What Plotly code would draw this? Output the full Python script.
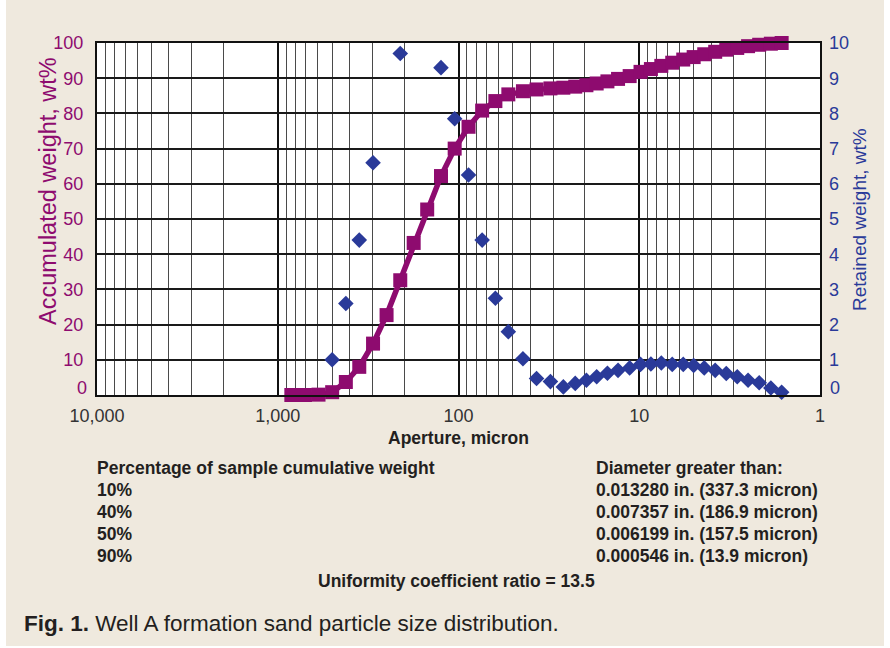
import plotly.graph_objects as go

# ---------------- data ----------------
aperture_um = [841, 707, 595, 500, 420, 354, 297, 250, 210, 177, 149, 125, 105, 88, 74, 62.5, 53,
               44, 37, 31, 26.3, 22.6, 19.6, 17.2, 15.0, 13.1, 11.3,
               9.84, 8.62, 7.55, 6.57, 5.71, 5.00, 4.37, 3.80, 3.30, 2.87,
               2.50, 2.17, 1.87, 1.63]
accumulated_wt = [0, 0, 0.1, 0.8, 3.7, 8.0, 14.6, 22.7, 32.6, 43.2, 52.7, 62.2, 70.0, 76.2, 80.8, 83.5, 85.4,
                  86.3, 86.8, 87.1, 87.3, 87.6, 88.0, 88.5, 89.1, 89.8, 90.6,
                  91.8, 92.6, 93.5, 94.4, 95.3, 96.0, 96.8, 97.5, 98.1, 98.6,
                  99.1, 99.5, 99.8, 100.0]
retained_wt = [None, None, None, 1.0, 2.6, 4.4, 6.6, None, 9.7, None, None, 9.3, 7.85, 6.25, 4.4, 2.75, 1.8,
               1.03, 0.47, 0.38, 0.23, 0.33, 0.42, 0.52, 0.62, 0.70, 0.77,
               0.87, 0.88, 0.91, 0.87, 0.87, 0.84, 0.77, 0.70, 0.61, 0.52,
               0.42, 0.35, 0.20, 0.08]

x_tick_vals = [10000, 1000, 100, 10, 1]
x_tick_text = ["10,000", "1,000", "100", "10", "1"]
y_left_ticks = [10, 20, 30, 40, 50, 60, 70, 80, 90, 100]
y_right_ticks = [1, 2, 3, 4, 5, 6, 7, 8, 9, 10]

pct_labels = ["10%", "40%", "50%", "90%"]
diam_labels = ["0.013280 in. (337.3 micron)", "0.007357 in. (186.9 micron)",
               "0.006199 in. (157.5 micron)", "0.000546 in. (13.9 micron)"]

# ---------------- style ----------------
MAG = "#8E0B6F"
BLUE = "#2A3A99"
BEIGE = "#EFE9DE"
TXT = "#231F20"
FONT = "Liberation Sans, Arial, sans-serif"

W, H = 890, 648
L, R, T, B = 97, 70, 43, 253
PW, PH = W - L - R, H - T - B


def px(xp):
    return (xp - L) / PW


def py(yp):
    return (H - B - yp) / PH


minor_vals = [m * 10 ** e for e in range(0, 4) for m in range(2, 10)]

fig = go.Figure()

fig.add_trace(go.Scatter(
    x=aperture_um, y=retained_wt, yaxis="y2", mode="markers",
    marker=dict(symbol="diamond", size=12, color=BLUE, line=dict(width=0)),
    cliponaxis=False, showlegend=False))

fig.add_trace(go.Scatter(
    x=aperture_um, y=accumulated_wt, mode="lines+markers",
    line=dict(color=MAG, width=5.5),
    marker=dict(symbol="square", size=14, color=MAG, line=dict(width=0)),
    cliponaxis=False, showlegend=False))

fig.update_layout(
    width=W, height=H,
    margin=dict(l=L, r=R, t=T, b=B, pad=0),
    paper_bgcolor=BEIGE, plot_bgcolor="white",
    font=dict(family=FONT, color=TXT),
    showlegend=False,
    xaxis=dict(
        type="log", range=[4, 0],
        tickvals=x_tick_vals, ticktext=x_tick_text,
        tickfont=dict(size=18, color="#333333"),
        ticks="", ticklabelstandoff=3,
        showgrid=True, gridcolor="#111111", gridwidth=1.7,
        minor=dict(tickvals=minor_vals, showgrid=True, gridcolor="#4a4a4a", gridwidth=1.2, ticks=""),
        showline=True, linecolor="#111111", linewidth=2, mirror=True,
        zeroline=False,
    ),
    yaxis=dict(
        range=[0, 100], tickvals=y_left_ticks,
        tickfont=dict(size=18, color=MAG),
        ticks="", ticklabelstandoff=8,
        showgrid=True, gridcolor="#1a1a1a", gridwidth=1.5,
        showline=True, linecolor="#111111", linewidth=2, mirror=True,
        zeroline=False,
    ),
    yaxis2=dict(
        range=[0, 10], tickvals=y_right_ticks, overlaying="y", side="right",
        tickfont=dict(size=18, color=BLUE),
        ticks="", ticklabelstandoff=8,
        showgrid=False, zeroline=False, showline=False,
    ),
)

ann = []
# shifted zero labels
ann.append(dict(xref="paper", yref="paper", x=0, y=0, xanchor="right", yanchor="middle",
                xshift=-8, yshift=7, text="0", showarrow=False, font=dict(size=18, color=MAG)))
ann.append(dict(xref="paper", yref="paper", x=1, y=0, xanchor="left", yanchor="middle",
                xshift=8, yshift=7, text="0", showarrow=False, font=dict(size=18, color=BLUE)))
# axis titles
ann.append(dict(xref="paper", yref="paper", x=px(48), y=py(191), textangle=-90,
                xanchor="center", yanchor="middle", text="Accumulated weight, wt%",
                showarrow=False, font=dict(size=23.5, color=MAG)))
ann.append(dict(xref="paper", yref="paper", x=px(859), y=py(220), textangle=-90,
                xanchor="center", yanchor="middle", text="Retained weight, wt%",
                showarrow=False, font=dict(size=19, color=BLUE)))
ann.append(dict(xref="paper", yref="paper", x=0.5, y=py(438), xanchor="center", yanchor="middle",
                text="<b>Aperture, micron</b>", showarrow=False, font=dict(size=17.5, color=TXT)))
# table text
ann.append(dict(xref="paper", yref="paper", x=px(95), y=py(468), xanchor="left", yanchor="middle",
                text="<b>Percentage of sample cumulative weight</b>", showarrow=False,
                font=dict(size=17.5, color=TXT)))
ann.append(dict(xref="paper", yref="paper", x=px(594), y=py(468), xanchor="left", yanchor="middle",
                text="<b>Diameter greater than:</b>", showarrow=False, font=dict(size=17.5, color=TXT)))
row_y = [490, 512, 534, 556]
for lab, dl, yy in zip(pct_labels, diam_labels, row_y):
    ann.append(dict(xref="paper", yref="paper", x=px(95), y=py(yy), xanchor="left", yanchor="middle",
                    text="<b>%s</b>" % lab, showarrow=False, font=dict(size=17.5, color=TXT)))
    ann.append(dict(xref="paper", yref="paper", x=px(594), y=py(yy), xanchor="left", yanchor="middle",
                    text="<b>%s</b>" % dl, showarrow=False, font=dict(size=17.5, color=TXT)))
ann.append(dict(xref="paper", yref="paper", x=px(456), y=py(581), xanchor="center", yanchor="middle",
                text="<b>Uniformity coefficient ratio = 13.5</b>", showarrow=False,
                font=dict(size=17.5, color=TXT)))
# caption
ann.append(dict(xref="paper", yref="paper", x=px(22), y=py(623), xanchor="left", yanchor="middle",
                text="<b>Fig. 1.</b> Well A formation sand particle size distribution.", showarrow=False,
                font=dict(size=22.5, color=TXT)))
fig.update_layout(annotations=ann)

# white page strips at the edges
fig.add_shape(type="rect", xref="paper", yref="paper", x0=px(0), x1=px(6), y0=py(H), y1=py(0),
              fillcolor="white", line=dict(width=0), layer="below")
fig.add_shape(type="rect", xref="paper", yref="paper", x0=px(884), x1=px(W), y0=py(H), y1=py(0),
              fillcolor="white", line=dict(width=0), layer="below")
fig.add_shape(type="rect", xref="paper", yref="paper", x0=px(0), x1=px(W), y0=py(H), y1=py(646),
              fillcolor="white", line=dict(width=0), layer="below")

fig.write_html("out.html", config={"displayModeBar": False},
               post_script="document.body.style.margin='0px';")
